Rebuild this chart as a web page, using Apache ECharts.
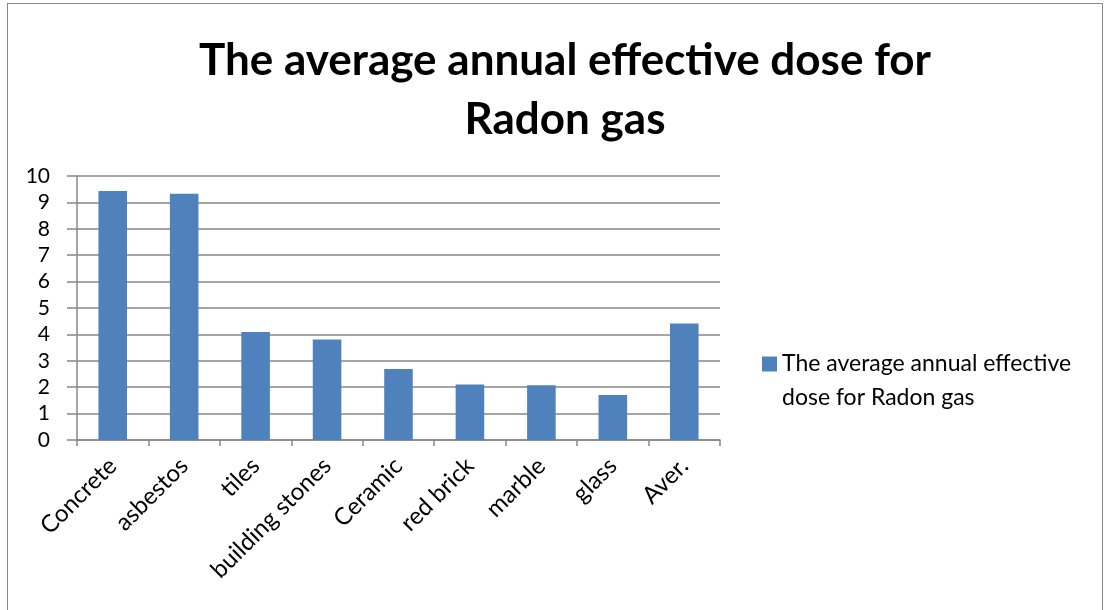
<!DOCTYPE html>
<html>
<head>
<meta charset="utf-8">
<script src="https://cdn.jsdelivr.net/npm/echarts@6/dist/echarts.min.js"></script>
<style>
  html, body { margin: 0; padding: 0; background: #fff; }
  #chart { width: 1112px; height: 610px; }
  #frame { position: absolute; left: 7px; top: 3px; width: 1096px; height: 640px; border: 1.5px solid #888; box-sizing: border-box; pointer-events: none; }
</style>
</head>
<body>
<div id="chart"></div>
<div id="frame"></div>
<script>
// Building materials and their average annual effective dose from radon
const categories = ['Concrete', 'asbestos', 'tiles', 'building stones', 'Ceramic', 'red brick', 'marble', 'glass', 'Aver.'];
const doseValues = [9.43, 9.33, 4.09, 3.81, 2.69, 2.10, 2.07, 1.70, 4.41];
const yTicks = { min: 0, max: 10, step: 1 };
const seriesName = 'The average annual effective dose for Radon gas';
const titleText = 'The average annual effective dose for\nRadon gas';
const legendLines = ['The average annual effective', 'dose for Radon gas'];

const FONT = 'Lato, "Open Sans", sans-serif';
const GRID_COLOR = '#878787';

const chart = echarts.init(document.getElementById('chart'));
chart.setOption({
  animation: false,
  backgroundColor: '#ffffff',
  title: {
    text: titleText,
    left: 560,
    top: 26,
    textAlign: 'center',
    textStyle: {
      fontFamily: FONT,
      fontWeight: 'bold',
      fontSize: 44,
      lineHeight: 59,
      color: '#000'
    }
  },
  legend: {
    left: 762,
    top: 313,
    padding: 0,
    icon: 'rect',
    itemWidth: 15,
    itemHeight: 15,
    // leading empty line keeps the first text line level with the swatch
    formatter: () => '\n' + legendLines.join('\n'),
    textStyle: {
      fontFamily: FONT,
      fontSize: 23,
      lineHeight: 34,
      color: '#000'
    }
  },
  grid: {
    left: 77,
    right: 392,
    top: 176,
    bottom: 170,
    containLabel: false
  },
  xAxis: {
    type: 'category',
    data: categories,
    axisLine: { show: true, lineStyle: { color: GRID_COLOR, width: 1.5 } },
    axisTick: { show: true, length: 6, lineStyle: { color: GRID_COLOR, width: 1.5 } },
    axisLabel: {
      rotate: 45,
      margin: 22,
      interval: 0,
      fontFamily: FONT,
      fontSize: 24,
      color: '#000'
    }
  },
  yAxis: {
    type: 'value',
    min: yTicks.min,
    max: yTicks.max,
    interval: yTicks.step,
    axisLine: { show: true, lineStyle: { color: GRID_COLOR, width: 1.5 } },
    axisTick: { show: true, length: 10, lineStyle: { color: GRID_COLOR, width: 1.5 } },
    splitLine: { show: true, lineStyle: { color: GRID_COLOR, width: 1.5 } },
    axisLabel: {
      margin: 27,
      fontFamily: FONT,
      fontSize: 21,
      color: '#000'
    }
  },
  series: [{
    name: seriesName,
    type: 'bar',
    data: doseValues,
    barWidth: '40%',
    itemStyle: { color: '#4F81BD' }
  }]
});
</script>
</body>
</html>
